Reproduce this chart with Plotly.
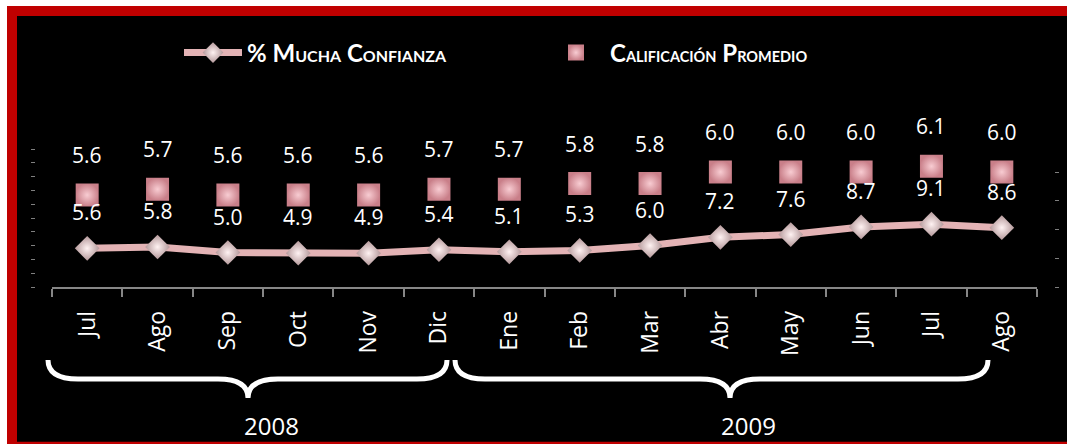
import plotly.graph_objects as go

W, H = 1067, 444

months = ["Jul", "Ago", "Sep", "Oct", "Nov", "Dic", "Ene", "Feb", "Mar", "Abr", "May", "Jun", "Jul", "Ago"]
mucha_confianza = [5.6, 5.8, 5.0, 4.9, 4.9, 5.4, 5.1, 5.3, 6.0, 7.2, 7.6, 8.7, 9.1, 8.6]
calificacion = [5.6, 5.7, 5.6, 5.6, 5.6, 5.7, 5.7, 5.8, 5.8, 6.0, 6.0, 6.0, 6.1, 6.0]
years = ["2008", "2009"]

xs = list(range(len(months)))


def px(x):
    return x / W


def py(y):
    return 1 - y / H


sc1 = "font-size:16px"
sc2 = "font-size:14.5px"
name1 = f"<b>% M<span style='{sc1}'>UCHA</span> C<span style='{sc1}'>ONFIANZA</span></b>"
name2 = f"<b>C<span style='{sc2}'>ALIFICACIÓN</span> P<span style='{sc2}'>ROMEDIO</span></b>"

fig = go.Figure()
fig.add_trace(go.Scatter(
    x=xs, y=mucha_confianza, name=name1, mode="lines+markers",
    line=dict(color="#e3b3b5", width=7),
    marker=dict(symbol="diamond", size=19, color="#b4989a",
                gradient=dict(type="radial", color="#fff2f2"),
                line=dict(width=0)),
    yaxis="y", hoverinfo="skip",
))
fig.add_trace(go.Scatter(
    x=xs, y=calificacion, name=name2, mode="markers",
    marker=dict(symbol="square", size=23, color="#c97f89",
                gradient=dict(type="radial", color="#f8ccd2"),
                line=dict(width=0)),
    yaxis="y2", hoverinfo="skip",
))

lab_font = dict(family="Open Sans", size=21, color="white")
annotations = []
for i, v in enumerate(mucha_confianza):
    annotations.append(dict(x=i, y=v, xref="x", yref="y", text=f"{v:.1f}", showarrow=False,
                            yshift=36, font=lab_font))
for i, v in enumerate(calificacion):
    annotations.append(dict(x=i, y=v, xref="x", yref="y2", text=f"{v:.1f}", showarrow=False,
                            yshift=40, font=lab_font))

year_pos = [271, 748]
for yr, xp in zip(years, year_pos):
    annotations.append(dict(x=px(xp), y=py(425), xref="paper", yref="paper", text=yr, showarrow=False,
                            xanchor="center", yanchor="middle",
                            font=dict(family="Open Sans", size=24, color="white")))


def brace(x0, x1, tip, ytop=360, ybar=379, ytip=398, r=30):
    pts = [
        f"M{px(x0)},{py(ytop)}",
        f"Q{px(x0)},{py(ybar)} {px(x0 + r)},{py(ybar)}",
        f"L{px(tip - r)},{py(ybar)}",
        f"Q{px(tip)},{py(ybar)} {px(tip)},{py(ytip)}",
        f"Q{px(tip)},{py(ybar)} {px(tip + r)},{py(ybar)}",
        f"L{px(x1 - r)},{py(ybar)}",
        f"Q{px(x1)},{py(ybar)} {px(x1)},{py(ytop)}",
    ]
    return " ".join(pts)


RED = "#c00000"
shapes = [
    # white outer margin (stroke) and red frame (stroke), drawn as outlines only
    dict(type="rect", xref="paper", yref="paper", x0=px(3.5), x1=px(W + 40), y0=py(H + 40), y1=py(3),
         fillcolor="rgba(0,0,0,0)", line=dict(color="white", width=7), layer="below"),
    dict(type="rect", xref="paper", yref="paper", x0=px(12), x1=px(W + 40), y0=py(446.7), y1=py(11),
         fillcolor="rgba(0,0,0,0)", line=dict(color=RED, width=10), layer="below"),
    dict(type="path", xref="paper", yref="paper", path=brace(48, 447, 248),
         line=dict(color="white", width=5)),
    dict(type="path", xref="paper", yref="paper", path=brace(455, 988, 730),
         line=dict(color="white", width=5)),
]

fig.update_layout(
    width=W, height=H,
    margin=dict(l=0, r=0, t=0, b=0),
    paper_bgcolor="black",
    plot_bgcolor="rgba(0,0,0,0)",
    showlegend=True,
    legend=dict(orientation="h", x=px(179), y=py(53), xanchor="left", yanchor="middle",
                font=dict(family="Lato", size=24, color="white"),
                itemwidth=58, entrywidth=290, bgcolor="rgba(0,0,0,0)"),
    xaxis=dict(domain=[px(52), px(1037)], range=[-0.5, len(months) - 0.5],
               tickmode="array", tickvals=xs, ticktext=months, tickangle=-90,
               ticks="", showgrid=False, zeroline=False,
               showline=True, linecolor="#868686", linewidth=1.5,
               ticklabelstandoff=13,
               tickfont=dict(family="Open Sans", size=23, color="white"),
               minor=dict(tickmode="linear", tick0=-0.5, dtick=1, ticks="outside",
                          ticklen=8, tickcolor="#868686", tickwidth=1.5, showgrid=False),
               fixedrange=True),
    yaxis=dict(domain=[1 - 287 / H, 1 - 149 / H], range=[0, 20], dtick=2, tick0=0,
               anchor="free", position=px(35), side="left",
               ticks="outside", ticklen=4, tickcolor="#808080", tickwidth=1,
               showticklabels=False, showgrid=False, zeroline=False, showline=False),
    yaxis2=dict(domain=[1 - 287 / H, 1 - 149 / H], range=[4, 6.4], dtick=0.5, tick0=4,
                overlaying="y", anchor="free", position=px(1054), side="right",
                ticks="outside", ticklen=4, tickcolor="#808080", tickwidth=1,
                showticklabels=False, showgrid=False, zeroline=False, showline=False),
    annotations=annotations,
    shapes=shapes,
)

fig.write_html("out.html", config={"displayModeBar": False},
               post_script="document.body.style.margin='0';document.body.style.overflow='hidden';")
